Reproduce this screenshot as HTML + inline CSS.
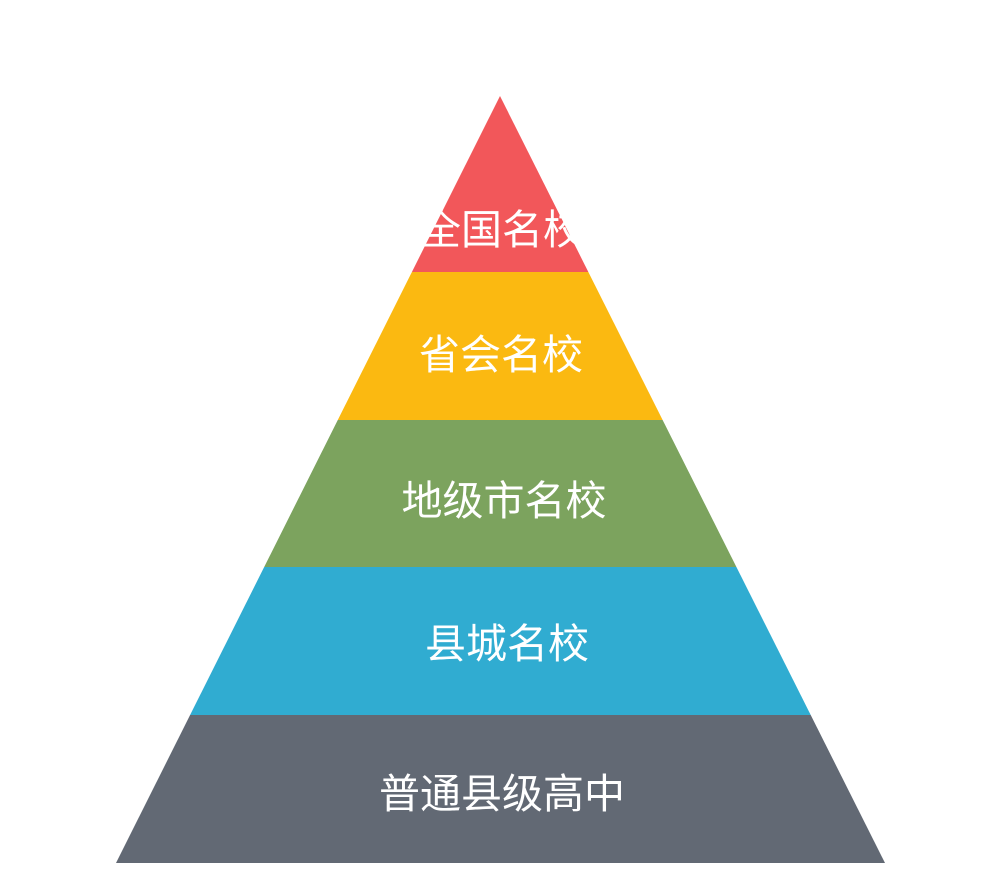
<!DOCTYPE html>
<html><head><meta charset="utf-8"><style>
html,body{margin:0;padding:0;background:#fff;}
svg{display:block}
text{font-family:"Liberation Sans","Noto Sans CJK SC",sans-serif;fill:#fff;font-size:41px;text-anchor:middle;}
</style></head><body>
<svg width="994" height="885" viewBox="0 0 994 885">
<defs><clipPath id="t"><polygon points="500,96 885,863 116,863"/></clipPath></defs>
<g clip-path="url(#t)">
<rect x="0" y="90" width="994" height="182" fill="#f2575a"/>
<rect x="0" y="272" width="994" height="148" fill="#fbb911"/>
<rect x="0" y="420" width="994" height="147" fill="#7ca35e"/>
<rect x="0" y="567" width="994" height="148" fill="#30acd1"/>
<rect x="0" y="715" width="994" height="148" fill="#626974"/>
</g>
<text x="502" y="244">全国名校</text>
<text x="501" y="369">省会名校</text>
<text x="504" y="515">地级市名校</text>
<text x="507" y="658">县城名校</text>
<text x="502" y="808">普通县级高中</text>
</svg>
</body></html>
